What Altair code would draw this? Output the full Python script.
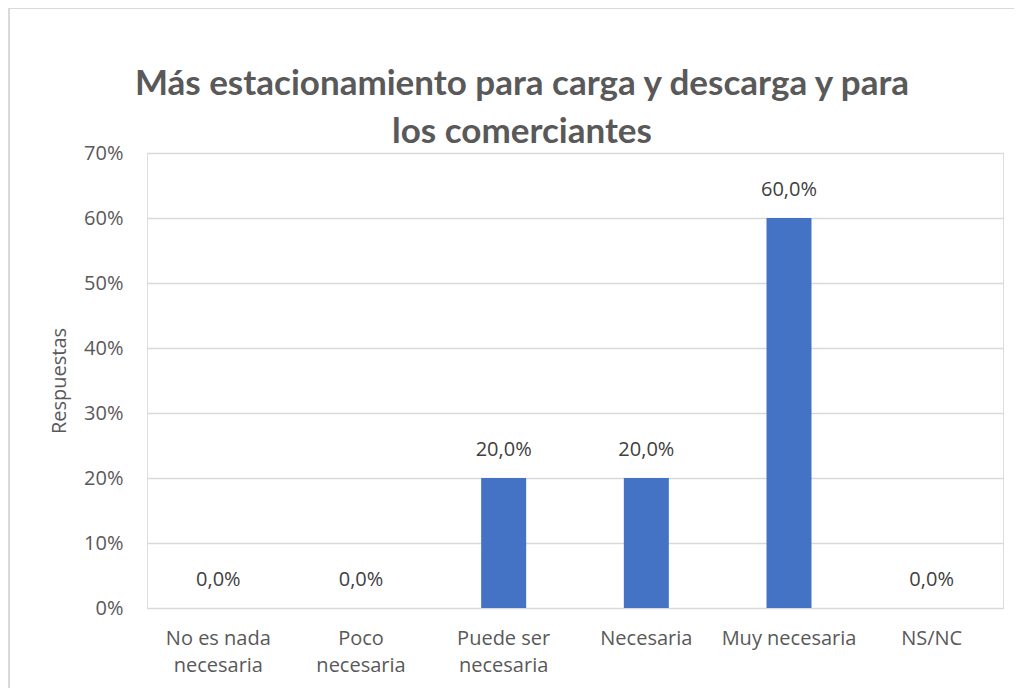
import altair as alt
import pandas as pd

categories = ["No es nada\nnecesaria", "Poco\nnecesaria", "Puede ser\nnecesaria",
              "Necesaria", "Muy necesaria", "NS/NC"]
values = [0.0, 0.0, 0.2, 0.2, 0.6, 0.0]
y_ticks = [0.0, 0.1, 0.2, 0.3, 0.4, 0.5, 0.6, 0.7]
title_lines = ["Más estacionamiento  para carga y descarga y para", "los comerciantes"]

df = pd.DataFrame({
    "cat": categories,
    "val": values,
    "lbl": [f"{v * 100:.1f}%".replace(".", ",") for v in values],
})

GRAY = "#595959"
FONT = "Open Sans"

x = alt.X("cat:N", sort=categories, title=None,
          scale=alt.Scale(paddingInner=0.0, paddingOuter=0.0),
          axis=alt.Axis(labelExpr="split(datum.label, '\\n')", labelAngle=0,
                        labelFontSize=20, labelColor=GRAY, labelFont=FONT,
                        labelLineHeight=27, labelPadding=20, ticks=False,
                        domain=False, grid=False, labelBaseline="top"))
y = alt.Y("val:Q", title="Respuestas",
          scale=alt.Scale(domain=[0, 0.7], nice=False),
          axis=alt.Axis(values=y_ticks, format=".0%", labelFontSize=20, labelColor=GRAY,
                        labelFont=FONT, labelPadding=24, ticks=False, domain=False,
                        gridColor="#d9d9d9", gridWidth=1.5,
                        titleFontSize=20, titleFont=FONT, titleColor=GRAY,
                        titleFontWeight="normal", titlePadding=14))

base = alt.Chart(df)
bars = base.mark_bar(size=45, color="#4472C4").encode(x=x, y=y)
texts = base.mark_text(fontSize=20, font=FONT, color="#404040", baseline="middle", dy=-28).encode(
    x=alt.X("cat:N", sort=categories), y="val:Q", text="lbl:N")

top_border = alt.Chart(df).mark_rule(color="#d9d9d9", strokeWidth=1.5).encode(
    x=alt.value(-138), x2=alt.value(880), y=alt.value(-145))
left_border = alt.Chart(df).mark_rule(color="#d9d9d9", strokeWidth=1.5).encode(
    x=alt.value(-138), y=alt.value(-145), y2=alt.value(560))

chart = alt.layer(top_border, left_border, bars, texts).properties(
    width=856, height=455,
    autosize=alt.AutoSizeParams(type="none"),
    padding={"left": 139, "top": 145, "right": 11, "bottom": 80},
    title=alt.TitleParams(text=title_lines, fontSize=35, font="Lato", fontWeight="bold",
                          color=GRAY, anchor="middle", frame="group", dx=-53,
                          lineHeight=48, offset=10, dy=153),
).configure_view(stroke=None).configure(background="white")

chart.save("out.html", embed_options={"renderer": "svg", "actions": False})
